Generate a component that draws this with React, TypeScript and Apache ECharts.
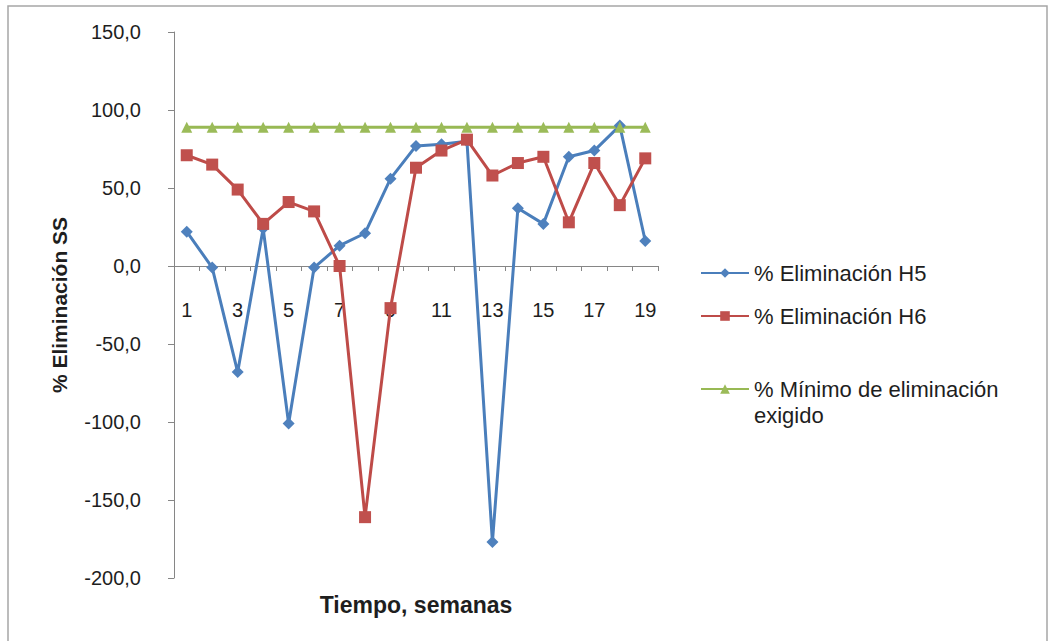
import React, { useEffect, useRef } from "react";
import * as echarts from "echarts";

const weeks = ["1", "2", "3", "4", "5", "6", "7", "8", "9", "10", "11", "12", "13", "14", "15", "16", "17", "18", "19"];
const elimH5 = [22, -1, -68, 24, -101, -1, 13, 21, 56, 77, 78, 80, -177, 37, 27, 70, 74, 90, 16];
const elimH6 = [71, 65, 49, 27, 41, 35, 0, -161, -27, 63, 74, 81, 58, 66, 70, 28, 66, 39, 69];
const minimoExigido = [89, 89, 89, 89, 89, 89, 89, 89, 89, 89, 89, 89, 89, 89, 89, 89, 89, 89, 89];

const NAME_H5 = "% Eliminación H5";
const NAME_H6 = "% Eliminación H6";
const NAME_MIN = "% Mínimo de eliminación exigido";

const FONT = "'Liberation Sans', Arial, sans-serif";

export default function App() {
  const ref = useRef<HTMLDivElement>(null);
  useEffect(() => {
    if (!ref.current) return;
    const chart = echarts.init(ref.current, null, { renderer: "svg" });
    const legendText = {
      fontFamily: FONT,
      fontSize: 22,
      color: "#1e1e1e",
      lineHeight: 26,
    };
    const legendBase = {
      orient: "vertical" as const,
      left: 695,
      itemWidth: 48,
      itemHeight: 12,
      itemGap: 5,
      textStyle: legendText,
      selectedMode: false,
    };
    chart.setOption({
      animation: false,
      backgroundColor: "#ffffff",
      graphic: [
        {
          type: "rect",
          shape: { x: 8, y: 6, width: 1039, height: 700 },
          style: { fill: "none", stroke: "#a6a6a6", lineWidth: 1.5 },
          silent: true,
        },
      ],
      legend: [
        { ...legendBase, top: 255, data: [NAME_H5] },
        { ...legendBase, top: 298, data: [NAME_H6] },
        {
          ...legendBase,
          top: 345,
          data: [NAME_MIN],
          formatter: () => "\n% Mínimo de eliminación\nexigido",
        },
      ],
      grid: { left: 174, right: 394, top: 32, bottom: 63, containLabel: false, outerBoundsMode: "none" },
      xAxis: {
        type: "category",
        data: weeks,
        boundaryGap: true,
        name: "Tiempo, semanas",
        nameLocation: "middle",
        nameGap: 15,
        nameMoveOverlap: false,
        nameTextStyle: { fontFamily: FONT, fontSize: 23, fontWeight: "bold", color: "#1e1e1e" },
        axisLine: { onZero: true, lineStyle: { color: "#868686", width: 1 } },
        axisTick: { show: true, interval: 0, length: 5, lineStyle: { color: "#868686" } },
        axisLabel: { interval: 1, margin: -278, fontFamily: FONT, fontSize: 20, color: "#1e1e1e" },
        splitLine: { show: false },
      },
      yAxis: {
        type: "value",
        min: -200,
        max: 150,
        interval: 50,
        name: "% Eliminación SS",
        nameLocation: "middle",
        nameRotate: 90,
        nameGap: 104,
        nameTextStyle: { fontFamily: FONT, fontSize: 21, fontWeight: "bold", color: "#1e1e1e" },
        axisLine: { show: true, lineStyle: { color: "#868686", width: 1 } },
        axisTick: { show: true, length: 6, lineStyle: { color: "#868686" } },
        axisLabel: {
          margin: 33,
          fontFamily: FONT,
          fontSize: 20,
          color: "#1e1e1e",
          formatter: (v: number) => v.toFixed(1).replace(".", ","),
        },
        splitLine: { show: false },
      },
      series: [
        {
          name: NAME_H5,
          type: "line",
          data: elimH5,
          symbol: "diamond",
          symbolSize: 12,
          lineStyle: { color: "#4A7EBB", width: 3 },
          itemStyle: { color: "#4F81BD" },
        },
        {
          name: NAME_H6,
          type: "line",
          data: elimH6,
          symbol: "rect",
          symbolSize: 12,
          lineStyle: { color: "#BE4B48", width: 3 },
          itemStyle: { color: "#C0504D" },
        },
        {
          name: NAME_MIN,
          type: "line",
          data: minimoExigido,
          symbol: "triangle",
          symbolSize: 11,
          lineStyle: { color: "#98B954", width: 3 },
          itemStyle: { color: "#9BBB59" },
        },
      ],
    });
    return () => chart.dispose();
  }, []);
  return (
    <div
      ref={ref}
      style={{ position: "absolute", left: 0, top: 0, width: 1052, height: 641, background: "#fff" }}
    />
  );
}
